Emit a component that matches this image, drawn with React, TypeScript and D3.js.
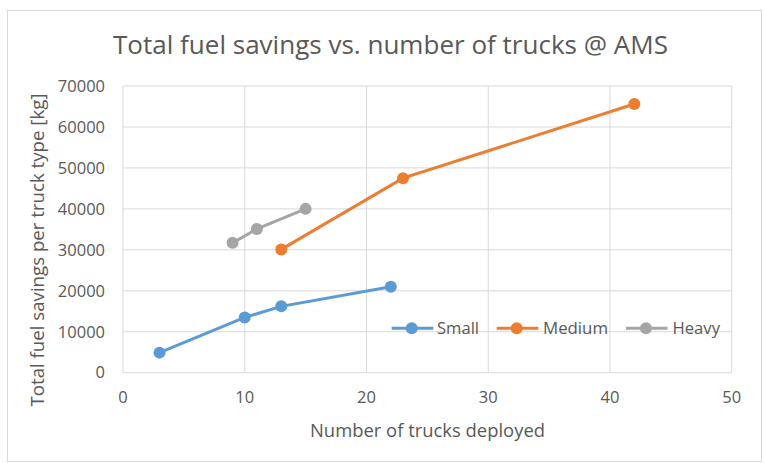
import React from "react";
import * as d3 from "d3";

const smallX = [3, 10, 13, 22];
const smallY = [4900, 13500, 16200, 21000];
const mediumX = [13, 23, 42];
const mediumY = [30100, 47500, 65600];
const heavyX = [9, 11, 15];
const heavyY = [31700, 35100, 40000];
const xTicks = [0, 10, 20, 30, 40, 50];
const yTicks = [0, 10000, 20000, 30000, 40000, 50000, 60000, 70000];
const seriesNames = ["Small", "Medium", "Heavy"];
const seriesColors = ["#5b9bd5", "#ed7d31", "#a5a5a5"];

const W = 764, H = 463;
const plot = { left: 123, right: 731.7, top: 86, bottom: 372.7 };
const FONT = "'Open Sans', 'Noto Sans', sans-serif";
const TXT = "#595959";

export default function App() {
  const x = d3.scaleLinear().domain([0, 50]).range([plot.left, plot.right]);
  const y = d3.scaleLinear().domain([0, 70000]).range([plot.bottom, plot.top]);
  const series = [
    { xs: smallX, ys: smallY },
    { xs: mediumX, ys: mediumY },
    { xs: heavyX, ys: heavyY },
  ];
  const line = d3.line<[number, number]>().x((d) => x(d[0])).y((d) => y(d[1]));
  const legend = [
    { lx: 391.7, tx: 437, len: 42 },
    { lx: 496.7, tx: 543, len: 65 },
    { lx: 626, tx: 672.5, len: 47.5 },
  ];
  const legY = 328.3;
  return (
    <svg width={W} height={H} style={{ position: "absolute", left: 0, top: 0, background: "#fff" }}>
      <rect x={7.5} y={10.5} width={754} height={451} fill="#fff" stroke="#d9d9d9" strokeWidth={1} />
      <text x={390.5} y={54} textAnchor="middle" fontFamily={FONT} fontSize={26} fill={TXT}
        textLength={555} lengthAdjust="spacingAndGlyphs">
        Total fuel savings vs. number of trucks @ AMS
      </text>
      {yTicks.map((t) => (
        <line key={"gy" + t} x1={plot.left} x2={plot.right} y1={y(t)} y2={y(t)} stroke="#d9d9d9" strokeWidth={1} />
      ))}
      {xTicks.map((t) => (
        <line key={"gx" + t} x1={x(t)} x2={x(t)} y1={plot.top} y2={plot.bottom} stroke="#d9d9d9" strokeWidth={1} />
      ))}
      {yTicks.map((t) => (
        <text key={"ty" + t} x={105} y={y(t)} dy="0.35em" textAnchor="end" fontFamily={FONT} fontSize={16.5} fill={TXT}>
          {t}
        </text>
      ))}
      {xTicks.map((t) => (
        <text key={"tx" + t} x={x(t)} y={397} dy="0.35em" textAnchor="middle" fontFamily={FONT} fontSize={16.5} fill={TXT}>
          {t}
        </text>
      ))}
      <text x={427.5} y={437} textAnchor="middle" fontFamily={FONT} fontSize={18} fill={TXT}
        textLength={235} lengthAdjust="spacingAndGlyphs">
        Number of trucks deployed
      </text>
      <text transform={`translate(44,250) rotate(-90)`} textAnchor="middle" fontFamily={FONT} fontSize={17.5} fill={TXT}
        textLength={313} lengthAdjust="spacingAndGlyphs">
        Total fuel savings per truck type [kg]
      </text>
      {series.map((s, i) => {
        const pts = s.xs.map((v, j) => [v, s.ys[j]] as [number, number]);
        return (
          <g key={"s" + i}>
            <path d={line(pts) || ""} fill="none" stroke={seriesColors[i]} strokeWidth={3} strokeLinecap="round" />
            {pts.map((p, j) => (
              <circle key={j} cx={x(p[0])} cy={y(p[1])} r={6} fill={seriesColors[i]} />
            ))}
          </g>
        );
      })}
      {legend.map((l, i) => (
        <g key={"l" + i}>
          <line x1={l.lx} x2={l.lx + 41.6} y1={legY} y2={legY} stroke={seriesColors[i]} strokeWidth={3} />
          <circle cx={l.lx + 20} cy={legY} r={6} fill={seriesColors[i]} />
          <text x={l.tx} y={legY} dy="0.35em" fontFamily={FONT} fontSize={17} fill={TXT}
            textLength={l.len} lengthAdjust="spacingAndGlyphs">
            {seriesNames[i]}
          </text>
        </g>
      ))}
    </svg>
  );
}
